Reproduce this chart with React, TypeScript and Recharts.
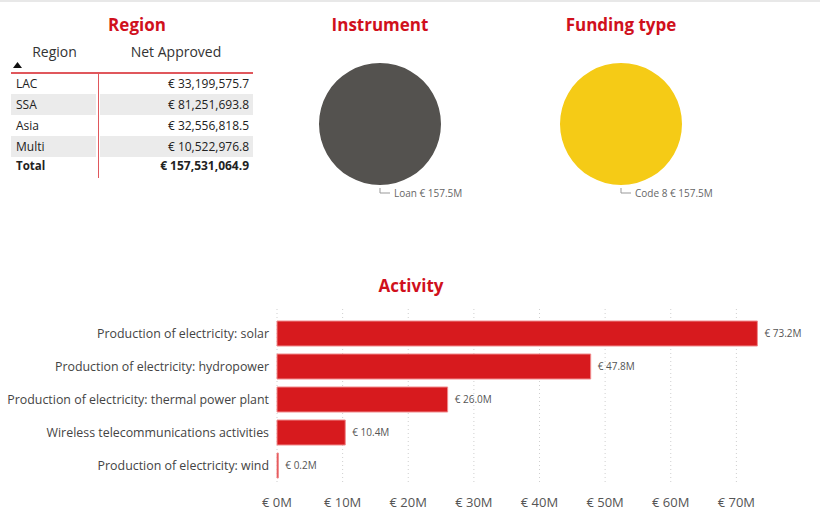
import React from "react"
import { Bar, BarChart, CartesianGrid, Cell, LabelList, Pie, PieChart, XAxis, YAxis } from "recharts"

const regions = ["LAC", "SSA", "Asia", "Multi"]
const regionNet = [33199575.7, 81251693.8, 32556818.5, 10522976.8]
const regionTotal = 157531064.9

const instrumentNames = ["Loan"]
const instrumentValues = [157.5]
const fundingNames = ["Code 8"]
const fundingValues = [157.5]

const activities = [
  "Production of electricity: solar",
  "Production of electricity: hydropower",
  "Production of electricity: thermal power plant",
  "Wireless telecommunications activities",
  "Production of electricity: wind",
]
const activityValues = [73.2, 47.8, 26.0, 10.4, 0.2]
const xTicks = [0, 10, 20, 30, 40, 50, 60, 70]
const X_MAX = 80

const FONT = "'Open Sans', 'Segoe UI', sans-serif"
const RED = "#d0101c"

const fmtEuro = (v: number) =>
  "€ " + v.toLocaleString("en-US", { minimumFractionDigits: 1, maximumFractionDigits: 1 })

function Title({ text, x, y }: { text: string; x: number; y: number }) {
  return (
    <div
      style={{
        position: "absolute",
        left: x - 100,
        top: y - 12,
        width: 200,
        textAlign: "center",
        fontFamily: FONT,
        fontWeight: 700,
        fontSize: 17,
        color: RED,
        lineHeight: "26px",
      }}
    >
      {text}
    </div>
  )
}

function RegionTable() {
  const rowH = 21
  const cell: React.CSSProperties = {
    position: "absolute",
    height: rowH,
    lineHeight: rowH + "px",
    fontSize: 12,
    color: "#222",
    fontFamily: FONT,
    whiteSpace: "nowrap",
  }
  return (
    <div style={{ position: "absolute", left: 0, top: 0 }}>
      <div style={{ ...cell, left: 11, top: 41, width: 87, textAlign: "center", fontSize: 14, color: "#333" }}>Region</div>
      <div style={{ ...cell, left: 99, top: 41, width: 154, textAlign: "center", fontSize: 14, color: "#333" }}>Net Approved</div>
      <svg style={{ position: "absolute", left: 13, top: 62 }} width={10} height={7}>
        <path d="M0,6 L4.5,0 L9,6 Z" fill="#111" />
      </svg>
      <div style={{ position: "absolute", left: 11, top: 72, width: 242, height: 1.5, background: "#e0575c" }} />
      {regions.map((r, i) => {
        const top = 73 + i * rowH
        const bg = i % 2 === 1 ? "#ebebeb" : "transparent"
        return (
          <React.Fragment key={r}>
            <div style={{ ...cell, left: 11, top, width: 85, background: bg, paddingLeft: 5, boxSizing: "border-box" }}>{r}</div>
            <div style={{ ...cell, left: 100, top, width: 153, background: bg, textAlign: "right", paddingRight: 4, boxSizing: "border-box" }}>
              {fmtEuro(regionNet[i])}
            </div>
          </React.Fragment>
        )
      })}
      <div style={{ ...cell, left: 11, top: 73 + 4 * rowH - 2, width: 85, paddingLeft: 5, boxSizing: "border-box", fontWeight: 700, fontSize: 11.5 }}>Total</div>
      <div style={{ ...cell, left: 100, top: 73 + 4 * rowH - 2, width: 153, textAlign: "right", paddingRight: 4, boxSizing: "border-box", fontWeight: 700 }}>
        {fmtEuro(regionTotal)}
      </div>
      <div style={{ position: "absolute", left: 97.5, top: 72, width: 1.5, height: 106, background: "#e0575c" }} />
    </div>
  )
}

const RADIAN = Math.PI / 180

function pieLabel(props: any) {
  const { cx, cy, midAngle, outerRadius, name, value } = props
  const x = cx + (outerRadius + 3) * Math.cos(-midAngle * RADIAN)
  const y = cy - (outerRadius + 3) * Math.sin(midAngle * RADIAN)
  return (
    <g>
      <path d={`M${x},${y} L${x},${y + 5} L${x + 10},${y + 5}`} stroke="#999" fill="none" strokeWidth={1} />
      <text x={x + 14} y={y + 5} dy="0.35em" fontSize={10} fill="#666" fontFamily={FONT}>
        {`${name} € ${value.toFixed(1)}M`}
      </text>
    </g>
  )
}

function SinglePie({ names, values, color, left }: { names: string[]; values: number[]; color: string; left: number }) {
  const data = names.map((n, i) => ({ name: n, value: values[i] }))
  return (
    <div style={{ position: "absolute", left, top: 24 }}>
      <PieChart width={200} height={200} margin={{ top: 0, right: 0, bottom: 0, left: 0 }}>
        <Pie
          data={data}
          dataKey="value"
          nameKey="name"
          cx={100}
          cy={100}
          outerRadius={61}
          startAngle={90}
          endAngle={-270}
          stroke="none"
          label={pieLabel}
          labelLine={false}
          isAnimationActive={false}
        >
          {data.map((d) => (
            <Cell key={d.name} fill={color} />
          ))}
        </Pie>
      </PieChart>
    </div>
  )
}

function CategoryTick(props: any) {
  const { x, y, payload } = props
  return (
    <text x={x} y={y} dy="0.35em" textAnchor="end" fontSize={12.4} fill="#444" fontFamily={FONT}>
      {payload.value}
    </text>
  )
}

function BarValueLabel(props: any) {
  const { x, y, width, height, value } = props
  return (
    <text x={x + width + 7} y={y + height / 2} dy="0.35em" fontSize={10} fill="#555" fontFamily={FONT}>
      {`€ ${Number(value).toFixed(1)}M`}
    </text>
  )
}

function ActivityChart() {
  const data = activities.map((a, i) => ({ name: a, value: activityValues[i] }))
  return (
    <div style={{ position: "absolute", left: 0, top: 295 }}>
      <BarChart width={820} height={222} data={data} layout="vertical" margin={{ top: 14, right: 18, bottom: 0, left: 0 }} barSize={25}>
        <CartesianGrid
          horizontal={false}
          stroke="#cfcfcf"
          strokeDasharray="1 3"
          verticalCoordinatesGenerator={({ offset }: any) =>
            xTicks.map((t) => offset.left + (t / X_MAX) * offset.width)
          }
        />
        <XAxis
          type="number"
          domain={[0, X_MAX]}
          ticks={xTicks}
          tickFormatter={(v: number) => `€ ${v}M`}
          tickLine={false}
          axisLine={false}
          height={35}
          tickMargin={10}
          tick={{ fontSize: 13, fill: "#555", fontFamily: FONT }}
        />
        <YAxis
          type="category"
          dataKey="name"
          width={277}
          tickLine={false}
          axisLine={false}
          padding={{ top: 8, bottom: 0 }}
          tick={<CategoryTick />}
        />
        <Bar dataKey="value" fill="#d71a1e" stroke="#f08a8c" strokeWidth={1} isAnimationActive={false}>
          <LabelList dataKey="value" content={<BarValueLabel />} />
        </Bar>
      </BarChart>
    </div>
  )
}

export default function App() {
  return (
    <div style={{ position: "absolute", left: 0, top: 0, width: 820, height: 517, background: "#fff", overflow: "hidden" }}>
      <div style={{ position: "absolute", left: 0, top: 0, width: 820, height: 2, background: "#e8e8e8" }} />
      <Title text="Region" x={137} y={24} />
      <Title text="Instrument" x={380} y={24} />
      <Title text="Funding type" x={621} y={24} />
      <Title text="Activity" x={411} y={285} />
      <RegionTable />
      <SinglePie names={instrumentNames} values={instrumentValues} color="#54524f" left={280} />
      <SinglePie names={fundingNames} values={fundingValues} color="#f5cb16" left={521} />
      <ActivityChart />
    </div>
  )
}
